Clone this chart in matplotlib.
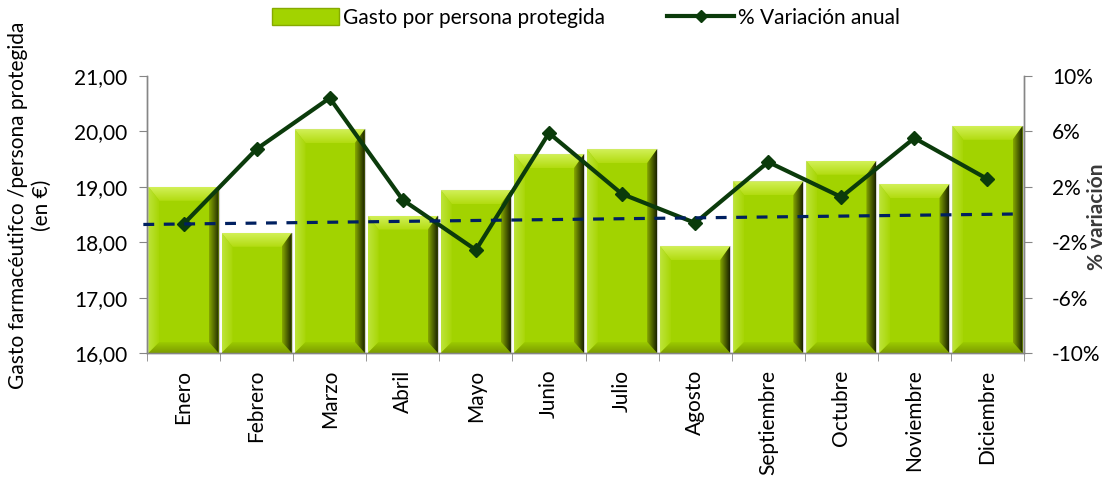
import numpy as np
import matplotlib
matplotlib.use("Agg")
import matplotlib.pyplot as plt
from matplotlib.patches import Polygon, Patch
from matplotlib.lines import Line2D
from matplotlib.ticker import FixedLocator
from matplotlib.colors import to_rgb

# ---- data ----
months = ["Enero", "Febrero", "Marzo", "Abril", "Mayo", "Junio", "Julio",
          "Agosto", "Septiembre", "Octubre", "Noviembre", "Diciembre"]
gasto = [19.00, 18.17, 20.04, 18.48, 18.94, 19.59, 19.68, 17.93, 19.10, 19.47, 19.05, 20.10]
variacion = [-0.69, 4.73, 8.41, 1.05, -2.56, 5.88, 1.48, -0.61, 3.79, 1.26, 5.52, 2.56]
trend_ends = [18.32, 18.51]  # dashed trend line, start and end values (left axis)
left_ticks = [16, 17, 18, 19, 20, 21]
left_labels = ["16,00", "17,00", "18,00", "19,00", "20,00", "21,00"]
right_ticks = [-10, -6, -2, 2, 6, 10]
right_labels = ["-10%", "-6%", "-2%", "2%", "6%", "10%"]

plt.rcParams['font.family'] = ['Lato', 'DejaVu Sans']
FS = 15

W, H = 1112, 484
fig = plt.figure(figsize=(W / 100, H / 100), dpi=100)
ax = fig.add_axes([147 / W, 1 - 353 / H, (1024 - 147) / W, (353 - 76) / H])
ax2 = ax.twinx()

x = np.arange(len(months))
ax.set_xlim(-0.5, len(months) - 0.5)
ax.set_ylim(16, 21)
ax2.set_ylim(-10, 10)

# ---- bars with bevel ----
face = '#A2D300'
bars = ax.bar(x, np.array(gasto) - 16, bottom=16, width=0.96, color=face,
              edgecolor='#D0D0D0', linewidth=0.8, zorder=2)

axw = (1024 - 147)
axh = (353 - 76)
ux = (len(months)) / axw   # data units per px in x
uy = 5.0 / axh             # data units per px in y
bx_l, bx_r, bt, bb = 11 * ux, 10 * ux, 14 * uy, 11 * uy


def grad_fill(poly_pts, extent, c_from, c_to, horizontal):
    p = Polygon(poly_pts, closed=True, facecolor='none', edgecolor='none', zorder=3)
    ax.add_patch(p)
    g = np.linspace(0, 1, 48)
    a = np.array(to_rgb(c_from)); b = np.array(to_rgb(c_to))
    if horizontal:
        img = (a[None, :] * (1 - g[:, None]) + b[None, :] * g[:, None])[None, :, :]
    else:
        img = (a[None, :] * (1 - g[:, None]) + b[None, :] * g[:, None])[:, None, :]
    im = ax.imshow(img, extent=extent, origin='lower', aspect='auto', zorder=3,
                   interpolation='bilinear')
    im.set_clip_path(p)


for r in bars:
    x0, y0 = r.get_x(), r.get_y()
    x1, y1 = x0 + r.get_width(), y0 + r.get_height()
    OBL, OBR, OTR, OTL = (x0, y0), (x1, y0), (x1, y1), (x0, y1)
    IBL, IBR = (x0 + bx_l, y0 + bb), (x1 - bx_r, y0 + bb)
    ITR, ITL = (x1 - bx_r, y1 - bt), (x0 + bx_l, y1 - bt)
    # top bevel: face at inner edge -> light at top (vertical gradient, origin lower)
    grad_fill([OTL, OTR, ITR, ITL], (x0, x1, y1 - bt, y1), '#B2DC10', '#D2F058', False)
    # left bevel: light at edge -> face
    grad_fill([OBL, OTL, ITL, IBL], (x0, x0 + bx_l, y0, y1), '#BDE43A', '#A8D606', True)
    # bottom bevel: dark at bottom -> face
    grad_fill([OBR, OBL, IBL, IBR], (x0, x1, y0, y0 + bb), '#7C9C00', '#9CCB00', False)
    # right bevel: olive -> very dark
    grad_fill([OTR, OBR, IBR, ITR], (x1 - bx_r, x1, y0, y1), '#86A800', '#1A2200', True)

ax.set_xlim(-0.5, len(months) - 0.5)
ax.set_ylim(16, 21)

# ---- variation line ----
ax2.plot(x, variacion, color='#0B3B0B', lw=3.0, marker='D', markersize=7,
         zorder=4, solid_joinstyle='miter')
# ---- trend line (left-axis units) ----
ax2.plot([-0.55, len(months) - 0.55], trend_ends, color='#002060', lw=2.3,
         dashes=(3.4, 3.0), transform=ax.transData, zorder=5, clip_on=False)
ax2.set_ylim(-10, 10)

# ---- axes styling ----
spine_c = '#868686'
for a in (ax, ax2):
    a.spines['top'].set_visible(False)
    for s in ('left', 'right', 'bottom'):
        a.spines[s].set_color(spine_c)
        a.spines[s].set_linewidth(1.0)
ax.set_yticks(left_ticks)
ax.set_yticklabels(left_labels, fontsize=FS)
ax2.set_yticks(right_ticks)
ax2.set_yticklabels(right_labels, fontsize=FS)
ax.tick_params(axis='y', direction='out', length=6, color=spine_c, pad=8)
ax2.tick_params(axis='y', direction='out', length=6, color=spine_c, pad=14)

ax.set_xticks(x)
ax.set_xticklabels(months, rotation=90, fontsize=FS, va='top')
ax.tick_params(axis='x', length=0, pad=12)
ax.xaxis.set_minor_locator(FixedLocator(np.arange(-0.5, len(months), 1.0)))
ax.tick_params(axis='x', which='minor', direction='out', length=6, color=spine_c)

# ---- labels ----
fig.text(0.027, 1 - 205 / H, "Gasto farmacéutifco /persona protegida\n(en €)",
         rotation=90, ha='center', va='center', fontsize=FS, multialignment='center')
fig.text(1097 / W, 1 - 217 / H, "% variación", rotation=90, ha='center', va='center',
         fontsize=FS, fontweight='bold', color='#3A3A3A')

# ---- legend ----
handles = [Patch(facecolor=face, edgecolor='#86AA00', linewidth=1.0),
           Line2D([0], [0], color='#0B3B0B', lw=3.0, marker='D', markersize=6)]
fig.legend(handles, ["Gasto por persona protegida", "% Variación anual"],
           loc='center', bbox_to_anchor=(586 / W, 1 - 18 / H), ncol=2, frameon=False,
           fontsize=FS, handlelength=3.2, handleheight=0.9, handletextpad=0.2, columnspacing=3.0)

fig.savefig("out.png", dpi=100)
